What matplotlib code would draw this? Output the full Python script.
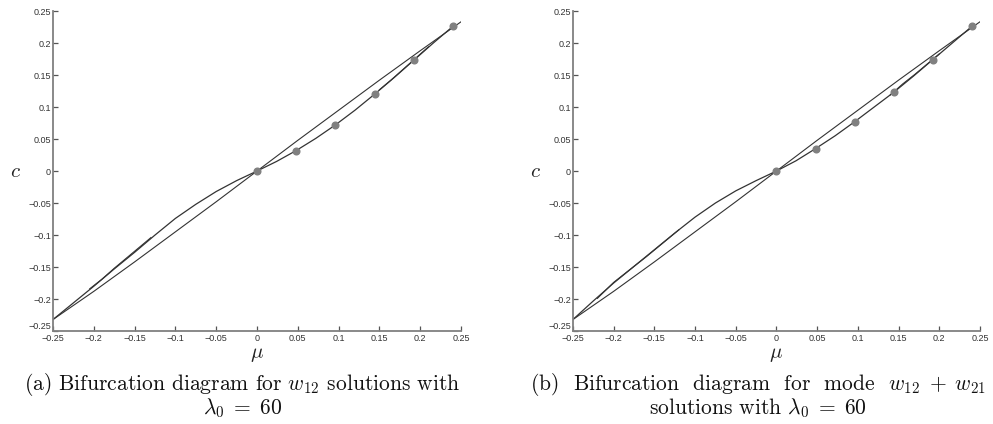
import matplotlib
matplotlib.use('Agg')
import matplotlib.pyplot as plt
from matplotlib.ticker import FuncFormatter

plt.rcParams['mathtext.fontset'] = 'cm'

# ── data ─────────────────────────────────────────────────────────────────
mu_ticks = [-0.25, -0.2, -0.15, -0.1, -0.05, 0, 0.05, 0.1, 0.15, 0.2, 0.25]
c_ticks = [-0.25, -0.2, -0.15, -0.1, -0.05, 0, 0.05, 0.1, 0.15, 0.2, 0.25]

# nearly straight branch (same in both panels)
mu_line = [-0.25, -0.2, -0.15, -0.1, -0.05, 0, 0.05, 0.1, 0.15, 0.2, 0.252]
c_line = [-0.232, -0.188, -0.142, -0.095, -0.048, 0, 0.048, 0.095, 0.142, 0.188, 0.235]

# curved branch, panel (a)
mu_curve = [-0.25, -0.225, -0.2, -0.175, -0.15, -0.125, -0.1, -0.075, -0.05, -0.025,
            0, 0.024, 0.048, 0.072, 0.096, 0.12, 0.144, 0.168, 0.192, 0.216, 0.24]
c_curve_a = [-0.232, -0.206, -0.180, -0.153, -0.127, -0.100, -0.074, -0.052, -0.032, -0.015,
             0, 0.015, 0.032, 0.051, 0.072, 0.095, 0.120, 0.146, 0.173, 0.200, 0.226]
# curved branch, panel (b)
c_curve_b = [-0.232, -0.203, -0.175, -0.149, -0.123, -0.097, -0.072, -0.050, -0.031, -0.015,
             0, 0.016, 0.035, 0.055, 0.077, 0.100, 0.123, 0.148, 0.174, 0.200, 0.226]

# short doubled stretches of the curve
mu_dbl_a = [-0.205, -0.19, -0.175, -0.16, -0.145, -0.13, None, 0.15, 0.165, 0.18, 0.195, 0.21]
c_dbl_a = [-0.184, -0.169, -0.152, -0.136, -0.120, -0.104, None, 0.127, 0.143, 0.160, 0.177, 0.194]
mu_dbl_b = [-0.22, -0.2, -0.18, -0.16, -0.14, -0.12, None, 0.14, 0.155, 0.17, 0.185, 0.2]
c_dbl_b = [-0.199, -0.174, -0.154, -0.134, -0.113, -0.092, None, 0.119, 0.136, 0.151, 0.167, 0.183]

# computed solutions (grey dots)
mu_pts = [0, 0.048, 0.096, 0.144, 0.192, 0.24]
c_pts_a = [0, 0.032, 0.072, 0.120, 0.173, 0.226]
c_pts_b = [0, 0.035, 0.077, 0.123, 0.174, 0.226]

captions = [
    ('(a) Bifurcation diagram for $w_{12}$ solutions with', r'$\lambda_0\;=\;60$'),
    ('(b)  Bifurcation  diagram  for  mode  $w_{12}\;+\;w_{21}$', r'solutions with $\lambda_0\;=\;60$'),
]

fig = plt.figure(figsize=(9.93, 4.24), dpi=100)
axes_pos = [[0.0534, 0.2193, 0.4109, 0.7547], [0.5770, 0.2193, 0.4099, 0.7547]]
caption_x = [0.244, 0.763]
panels = [(c_curve_a, mu_dbl_a, c_dbl_a, c_pts_a), (c_curve_b, mu_dbl_b, c_dbl_b, c_pts_b)]

fmt = FuncFormatter(lambda v, _: f'{round(v, 3) + 0.0:g}'.replace('-', '\u2212'))
spine_col = '#808080'
line_col = '#333333'

for i, (c_curve, mu_dbl, c_dbl, c_pts) in enumerate(panels):
    ax = fig.add_axes(axes_pos[i])
    mu_d = [m if m is not None else float('nan') for m in mu_dbl]
    c_d = [c if c is not None else float('nan') for c in c_dbl]

    ax.plot(mu_line, c_line, color=line_col, lw=0.8)
    ax.plot(mu_curve, c_curve, color=line_col, lw=0.9)
    ax.plot(mu_d, c_d, color=line_col, lw=0.8)
    ax.plot(mu_pts, c_pts, 'o', color='#808080', ms=4.8, mec='#808080', zorder=5)

    ax.set_xlim(-0.25, 0.25)
    ax.set_ylim(-0.25, 0.25)
    ax.set_xticks(mu_ticks)
    ax.set_yticks(c_ticks)
    ax.xaxis.set_major_formatter(fmt)
    ax.yaxis.set_major_formatter(fmt)

    for side in ('top', 'right'):
        ax.spines[side].set_visible(False)
    for side in ('left', 'bottom'):
        ax.spines[side].set_color(spine_col)
        ax.spines[side].set_linewidth(1.3)
    ax.tick_params(direction='in', length=3.5, width=0.9, color='#555555',
                   labelsize=6.5, labelcolor='#333333')
    ax.tick_params(axis='x', pad=2.5)
    ax.tick_params(axis='y', pad=1.5)
    for lab in ax.get_xticklabels() + ax.get_yticklabels():
        lab.set_family('Liberation Sans')
    # nudge the lowest y label up a hair so it clears the x labels
    ax.get_yticklabels()[0].set_va('bottom')

    ax.set_xlabel(r'$\mu$', fontsize=15, color='#222222')
    ax.xaxis.set_label_coords(0.5, -0.04)
    ax.set_ylabel('$c$', fontsize=15, rotation=0, color='#222222', va='center', ha='center')
    ax.yaxis.set_label_coords(-0.093, 0.5)

    fig.text(caption_x[i], 1 - 390 / 424, captions[i][0], family='cmr10', fontsize=15.5,
             ha='center', va='baseline', color='#111111')
    fig.text(caption_x[i], 1 - 414 / 424, captions[i][1], family='cmr10', fontsize=15.5,
             ha='center', va='baseline', color='#111111')

fig.savefig('out.png', dpi=100)
